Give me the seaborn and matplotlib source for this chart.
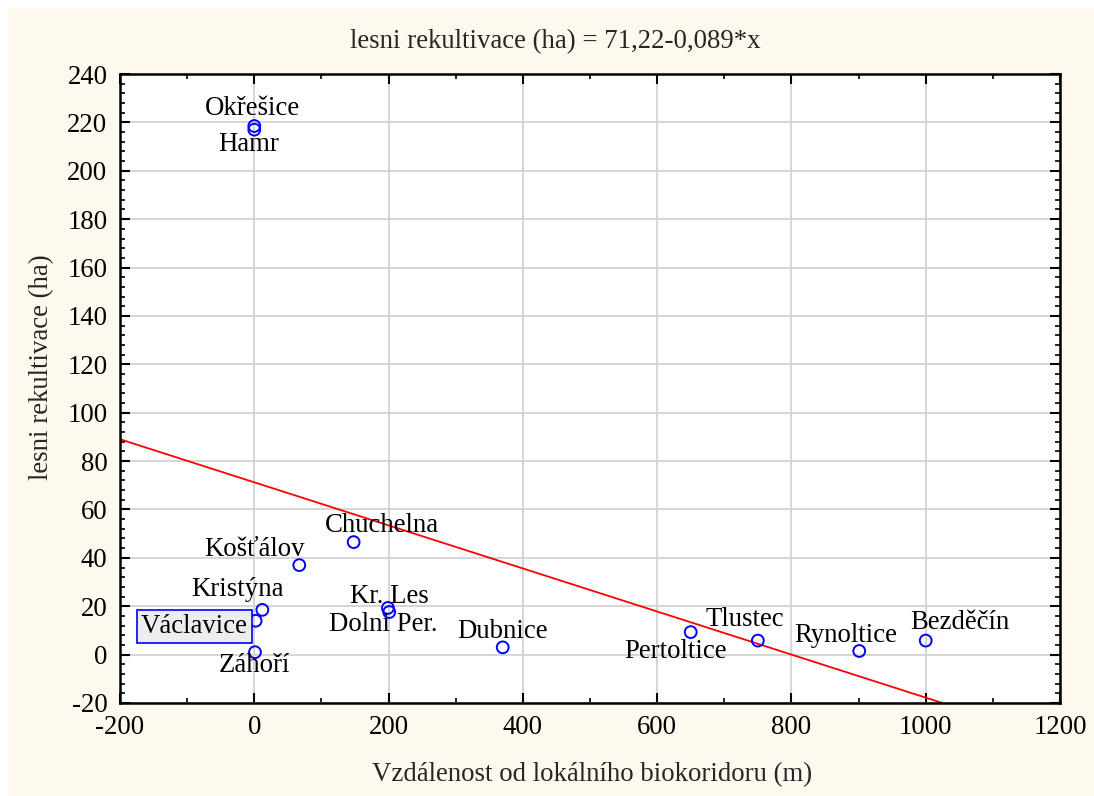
import numpy as np
import pandas as pd
import matplotlib
matplotlib.use("Agg")
import matplotlib.pyplot as plt
from matplotlib.ticker import AutoMinorLocator
from matplotlib.patches import Rectangle
import seaborn as sns

# ---- data ----
names = ["Okřešice", "Hamr", "Košťálov", "Chuchelna", "Kristýna", "Václavice",
         "Záhoří", "Kr. Les", "Dolni Per.", "Dubnice", "Pertoltice", "Tlustec",
         "Rynoltice", "Bezděčín"]
distance = [0, 0, 67, 148, 12, 2, 1, 199, 201, 370, 650, 750, 901, 1000]
forest = [218.5, 217, 37, 46.5, 18.5, 14, 1, 19.3, 17.6, 3, 9.3, 5.8, 1.5, 5.8]
intercept = 71.22
slope = -0.089
title = "lesni rekultivace (ha) = 71,22-0,089*x"
xlabel = "Vzdálenost od lokálního biokoridoru (m)"
ylabel = "lesni rekultivace (ha)"
xticks = [-200, 0, 200, 400, 600, 800, 1000, 1200]
yticks = [-20, 0, 20, 40, 60, 80, 100, 120, 140, 160, 180, 200, 220, 240]

# label offsets in pixels (text centre relative to point)
label_offsets = [(-2, 18), (-6, -15), (-45, 16), (28, 17), (-25, 20), (-61, -6),
                 (-1, -13), (1, 11), (-6, -12), (0, 16), (-15, -19), (-13, 21),
                 (-14, 15), (34, 18)]

df = pd.DataFrame({"name": names, "x": distance, "y": forest})

sns.set_theme(style="white")
plt.rcParams["font.family"] = ["Liberation Serif", "DejaVu Serif"]
plt.rcParams["axes.unicode_minus"] = False
FS = 19.3

cream = "#fef9ef"
fig = plt.figure(figsize=(10.94, 7.96), dpi=100, facecolor=cream)
# white strips at top and left edge
fig.patches.append(Rectangle((0, 1 - 8 / 796), 1, 8 / 796, transform=fig.transFigure,
                             fc="white", ec="none", zorder=0))
fig.patches.append(Rectangle((0, 0), 8 / 1094, 1, transform=fig.transFigure,
                             fc="white", ec="none", zorder=0))

ax = fig.add_axes([120 / 1094, 1 - 703 / 796, 940 / 1094, 629 / 796])
ax.set_facecolor("white")

ax.set_xlim(xticks[0], xticks[-1])
ax.set_ylim(yticks[0], yticks[-1])
ax.set_xticks(xticks)
ax.set_yticks(yticks)
ax.xaxis.set_minor_locator(AutoMinorLocator(2))
ax.yaxis.set_minor_locator(AutoMinorLocator(5))
ax.grid(True, which="major", color="#d2d2d2", linewidth=1.3)
ax.set_axisbelow(True)

ax.tick_params(which="both", direction="in", top=True, right=True, bottom=True, left=True,
               colors="black", labelsize=FS, pad=9)
ax.tick_params(which="major", length=7, width=1.5)
ax.tick_params(which="minor", length=3.5, width=1.2)
for s in ax.spines.values():
    s.set_color("black")
    s.set_linewidth(1.8)

ax.axline((0, intercept), slope=slope, color="red", linewidth=1.3, zorder=2)

sns.scatterplot(data=df, x="x", y="y", ax=ax, s=72, marker="o",
                facecolors="none", edgecolor="blue", linewidth=1.4, zorder=3,
                legend=False)

for (nm, xv, yv), (dx, dy) in zip(zip(names, distance, forest), label_offsets):
    kw = {}
    if nm == "Václavice":
        kw["bbox"] = dict(boxstyle="square,pad=0.15", fc="#ededed", ec="blue", lw=1.2)
    ax.annotate(nm, (xv, yv), xytext=(dx, dy), textcoords="offset pixels",
                ha="center", va="center", fontsize=FS, color="black", zorder=4, **kw)

ax.set_xlabel("")
ax.set_ylabel("")
fig.text(555 / 1094, 1 - 42 / 796, title, ha="center", va="center", fontsize=FS)
fig.text(592 / 1094, 1 - 775 / 796, xlabel, ha="center", va="center", fontsize=FS)
fig.text(42 / 1094, 1 - 367 / 796, ylabel, ha="center", va="center", fontsize=FS,
         rotation=90)

fig.savefig("out.png", dpi=100, facecolor=cream)
